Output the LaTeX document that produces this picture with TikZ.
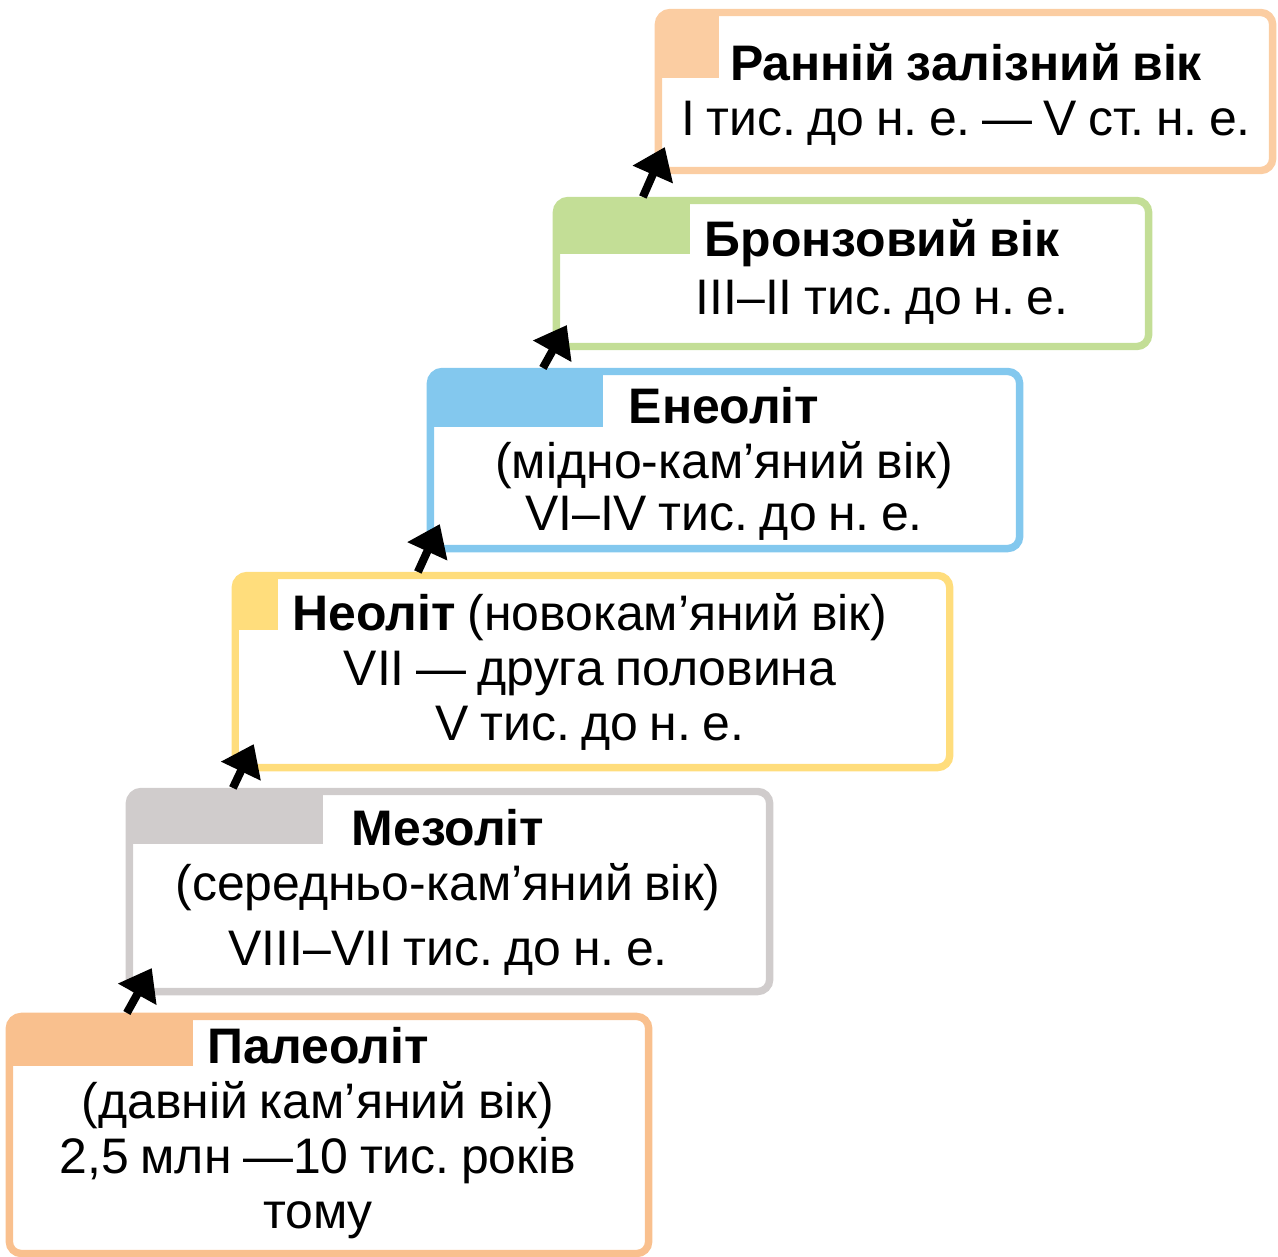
\documentclass[tikz,border=0pt]{standalone}
\usepackage{fontspec}
\setmainfont{Liberation Sans}
\usetikzlibrary{arrows.meta}
\frenchspacing

\definecolor{ironcol}{HTML}{FBCDA2}
\definecolor{bronzecol}{HTML}{C3DE96}
\definecolor{eneocol}{HTML}{83C8EE}
\definecolor{neocol}{HTML}{FFDD7C}
\definecolor{mesocol}{HTML}{D0CCCC}
\definecolor{paleocol}{HTML}{F9C08E}
\newcommand\erafont{\fontsize{14.2pt}{15.6pt}\selectfont\spaceskip=0.23em plus 0.1em minus 0.05em\relax}

\begin{document}
\begin{tikzpicture}[x=0.01cm, y=-0.01cm,
        box/.style={draw, line width=2.1pt, rounded corners=0.12cm, inner sep=0pt, outer sep=0pt},
        tab/.style n args={3}{draw=#1, path picture={\fill[#1, sharp corners] (path picture bounding box.north west) rectangle ++(#2,-#3);}},
        era/.style={anchor=base, align=center, inner sep=0pt, font=\erafont},
        arr/.style={line width=2.3pt, -{Triangle[length=3mm,width=4.2mm]}}]
    \useasboundingbox (0,0) rectangle (1278,1257);
    % boxes, from the bottom step up
    \node[box, tab={paleocol}{1.835cm}{0.495cm}, minimum width=6.39cm, minimum height=2.37cm] (paleo) at (329,1135) {};
    \node[box, tab={mesocol}{1.935cm}{0.525cm}, minimum width=6.40cm, minimum height=2.00cm] (meso) at (449.5,891.5) {};
    \node[box, tab={neocol}{0.425cm}{0.545cm}, minimum width=7.14cm, minimum height=1.92cm] (neo) at (592.5,671.5) {};
    \node[box, tab={eneocol}{1.725cm}{0.555cm}, minimum width=5.89cm, minimum height=1.77cm] (eneo) at (725,460) {};
    \node[box, tab={bronzecol}{1.335cm}{0.535cm}, minimum width=5.92cm, minimum height=1.46cm] (bronze) at (852.5,273.5) {};
    \node[box, tab={ironcol}{0.605cm}{0.655cm}, minimum width=6.14cm, minimum height=1.58cm] (iron) at (965.5,91.5) {};
    % texts (base = last line)
    \node[era] (paleo-t) at (318,1228) {\textbf{Палеоліт}\\(давній кам’яний вік)\\2,5 млн —10 тис. років\\тому};
    \node[era] (meso-t) at (448,965) {\textbf{Мезоліт}\\(середньо-кам’яний вік)\\[0.1cm]VIII–VII тис. до н. е.};
    \node[era] (neo-t) at (590,740) {\textbf{Неоліт} (новокам’яний вік)\\VII — друга половина\\V тис. до н. е.};
    \node[era] (eneo-t) at (724,530) {\textbf{Енеоліт}\\(мідно-кам’яний вік)\\[-0.03cm]VI–IV тис. до н. е.};
    \node[era] (bronze-t) at (882,314) {\textbf{Бронзовий вік}\\[0.03cm]III–II тис. до н. е.};
    \node[era] (iron-t) at (966,135) {\textbf{Ранній залізний вік}\\I тис. до н. е. — V ст. н. е.};
    % arrows
    \draw[arr] ([xshift=1.175cm,yshift=0.035cm]paleo.north west) -- ([xshift=0.225cm,yshift=0.235cm]meso.south west);
    \draw[arr] ([xshift=1.035cm,yshift=0.035cm]meso.north west) -- ([xshift=0.185cm,yshift=0.235cm]neo.south west);
    \draw[arr] ([xshift=1.825cm,yshift=0.035cm]neo.north west) -- ([xshift=0.095cm,yshift=0.245cm]eneo.south west);
    \draw[arr] ([xshift=1.125cm,yshift=0.035cm]eneo.north west) -- ([xshift=0.105cm,yshift=0.215cm]bronze.south west);
    \draw[arr] ([xshift=0.865cm,yshift=0.035cm]bronze.north west) -- ([xshift=0.065cm,yshift=0.235cm]iron.south west);
\end{tikzpicture}
\end{document}
